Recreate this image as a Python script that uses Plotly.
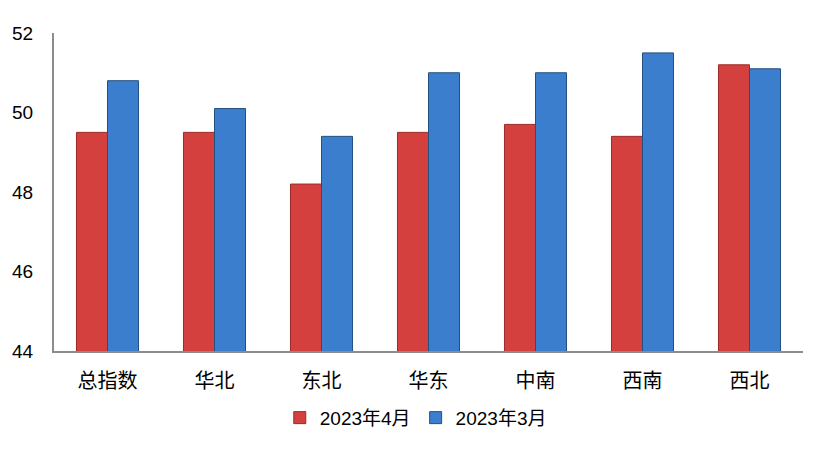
import plotly.graph_objects as go

categories = ["总指数", "华北", "东北", "华东", "中南", "西南", "西北"]
apr_2023 = [49.5, 49.5, 48.2, 49.5, 49.7, 49.4, 51.2]
mar_2023 = [50.8, 50.1, 49.4, 51.0, 51.0, 51.5, 51.1]
series_names = ["2023年4月", "2023年3月"]
y_ticks = [44, 46, 48, 50, 52]

font_family = "Liberation Sans, Noto Sans CJK SC, sans-serif"

fig = go.Figure()
fig.add_trace(go.Bar(
    x=categories, y=apr_2023, name=series_names[0],
    marker=dict(color="#D4403D", line=dict(color="#9A2B29", width=1)),
))
fig.add_trace(go.Bar(
    x=categories, y=mar_2023, name=series_names[1],
    marker=dict(color="#3B7ECD", line=dict(color="#24507F", width=1)),
))

fig.update_layout(
    width=816, height=444,
    margin=dict(l=46, r=21, t=25, b=101, autoexpand=False),
    paper_bgcolor="white", plot_bgcolor="white",
    barmode="group", bargap=0.42, bargroupgap=0,
    font=dict(family=font_family, size=19, color="#000000"),
    showlegend=True,
    legend=dict(orientation="h", x=0.483, xanchor="center", y=-0.21, yanchor="middle",
                font=dict(size=19), traceorder="normal", itemwidth=30),
)
fig.update_xaxes(
    showline=True, linecolor="#8C8C8C", linewidth=2, showgrid=False, automargin=False,
    ticks="", ticklabelstandoff=11, tickfont=dict(size=20),
)
fig.update_yaxes(
    range=[44, 52], tickvals=y_ticks, showline=True, linecolor="#8C8C8C", linewidth=2,
    showgrid=False, zeroline=False, ticks="", ticklabelstandoff=15, automargin=False,
    tickfont=dict(size=19),
)

fig.write_html("out.html")
